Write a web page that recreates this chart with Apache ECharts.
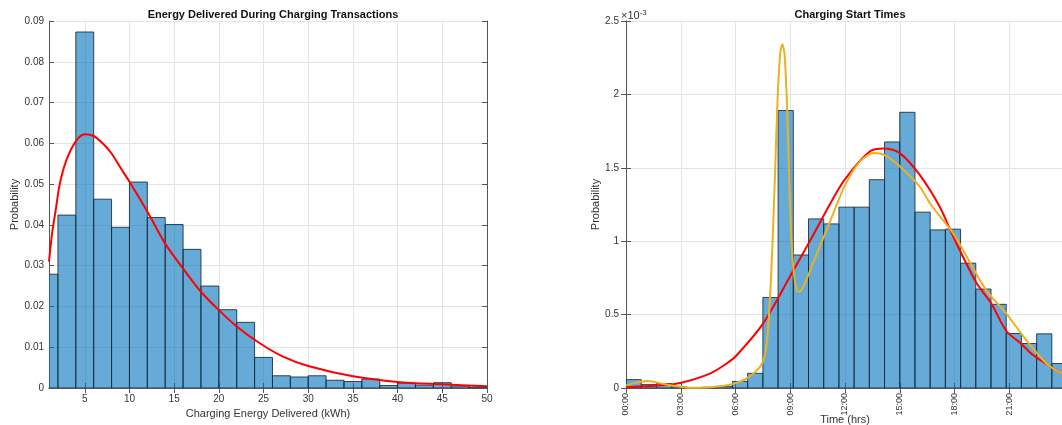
<!DOCTYPE html>
<html>
<head>
<meta charset="utf-8">
<script src="https://cdn.jsdelivr.net/npm/echarts@6/dist/echarts.min.js"></script>
<style>
  html, body { margin: 0; padding: 0; background: #fff; }
  #chart { width: 1062px; height: 425px; }
</style>
</head>
<body>
<div id="chart"></div>
<script>
// 左图：充电电量直方图 (bin 宽 2 kWh)
var energyBinWidth = 2;
var energyBinStart = [0, 2, 4, 6, 8, 10, 12, 14, 16, 18, 20, 22, 24, 26, 28, 30, 32, 34, 36, 38, 40, 42, 44, 46, 48];
var energyProb = [0.0279, 0.0424, 0.0873, 0.0463, 0.0394, 0.0505, 0.0418, 0.0401, 0.0340, 0.0250, 0.0192, 0.0161, 0.0075,
                  0.0030, 0.0027, 0.0030, 0.0019, 0.0016, 0.0022, 0.0006, 0.0012, 0.0007, 0.0013, 0.0005, 0.0002];
// 红色拟合曲线
var energyFitX = [1, 1.35, 1.75, 2.2, 2.95, 4, 5, 6, 7, 8, 9, 10, 12, 14, 16, 18, 20, 22, 24.5, 27, 30, 35, 40, 45, 50];
var energyFitY = [0.031, 0.038, 0.0436, 0.050, 0.0559, 0.0605, 0.0622, 0.0618, 0.0600, 0.0575, 0.0540, 0.0506, 0.0433,
                  0.0354, 0.0293, 0.0236, 0.0191, 0.0151, 0.0111, 0.0079, 0.0054, 0.0029, 0.0015, 0.0009, 0.0004];
var energyTicks = [5, 10, 15, 20, 25, 30, 35, 40, 45, 50];

// 右图：开始充电时间 (分钟, bin 宽 50 分钟, 概率 ×10^-3)
var timeBinWidth = 50;
var timeBinStart = [0, 50, 100, 150, 200, 250, 300, 350, 400, 450, 500, 550, 600, 650, 700, 750, 800, 850, 900, 950,
                    1000, 1050, 1100, 1150, 1200, 1250, 1300, 1350, 1400];
var timeProb = [0.057, 0.023, 0.030, 0.008, 0.003, 0.005, 0.012, 0.045, 0.100, 0.617, 1.890, 0.906, 1.152, 1.118, 1.232,
                1.232, 1.419, 1.676, 1.878, 1.198, 1.077, 1.082, 0.850, 0.674, 0.570, 0.371, 0.303, 0.369, 0.167];
// 红色正态拟合
var timeFitX = [0, 112, 178, 276, 331, 364, 451, 550, 615, 670, 719, 802, 847, 900, 965, 1031, 1075, 1151, 1201, 1250,
                1300, 1338, 1432, 1440];
var timeFitY = [0.005, 0.018, 0.034, 0.098, 0.167, 0.223, 0.44, 0.80, 1.04, 1.25, 1.42, 1.612, 1.632, 1.60, 1.453, 1.236,
                1.035, 0.72, 0.576, 0.39, 0.30, 0.225, 0.098, 0.093];
// 黄色核密度
var timeKdeX = [0, 30, 68, 108, 144, 198, 240, 286, 342, 396, 440, 456, 465, 473, 480, 489, 498, 507, 514, 521, 529, 537,
                544, 552, 561, 566, 573, 583, 615, 670, 720, 768, 816, 852, 900, 965, 1002, 1075, 1108, 1184, 1250, 1316,
                1382, 1432, 1440];
var timeKdeY = [0.018, 0.035, 0.048, 0.035, 0.018, 0.004, 0.002, 0.007, 0.023, 0.064, 0.143, 0.22, 0.35, 0.6, 0.9, 1.4,
                1.95, 2.28, 2.34, 2.28, 1.95, 1.4, 1.0, 0.78, 0.67, 0.656, 0.66, 0.69, 0.85, 1.13, 1.38, 1.54, 1.60, 1.585,
                1.51, 1.373, 1.25, 1.055, 0.94, 0.667, 0.508, 0.326, 0.167, 0.098, 0.093];

var FONT = 'Liberation Sans, Arial, sans-serif';
var AX = '#555';
var TXT = '#333';

function pairs(xs, ys) {
    return xs.map(function (x, i) { return [x, ys[i]]; });
}
function bins(starts, w, ys) {
    return starts.map(function (s, i) { return [s, s + w, ys[i]]; });
}
function histItem(params, api) {
    var p0 = api.coord([api.value(0), api.value(2)]);
    var p1 = api.coord([api.value(1), 0]);
    return {
        type: 'rect',
        shape: { x: p0[0], y: p0[1], width: p1[0] - p0[0], height: p1[1] - p0[1] },
        style: { fill: 'rgba(0,114,189,0.6)', stroke: 'rgba(25,40,55,0.85)', lineWidth: 1 }
    };
}
function hhmm(v) {
    var h = Math.floor(v / 60), m = v % 60;
    return (h < 10 ? '0' : '') + h + ':' + (m < 10 ? '0' : '') + m;
}

var myChart = echarts.init(document.getElementById('chart'));

var baseLine = { show: true, lineStyle: { color: AX, width: 1 } };
var inTick = { show: true, inside: true, length: 5, lineStyle: { color: AX } };
var grid = { show: true, lineStyle: { color: '#e4e4e4', width: 1 } };

var option = {
    animation: false,
    textStyle: { fontFamily: FONT },
    title: [
        { text: 'Energy Delivered During Charging Transactions', left: 268, top: 4, textAlign: 'center',
          textStyle: { fontSize: 11, fontWeight: 'bold', color: '#111', fontFamily: FONT } },
        { text: 'Charging Start Times', left: 845, top: 4, textAlign: 'center',
          textStyle: { fontSize: 11, fontWeight: 'bold', color: '#111', fontFamily: FONT } }
    ],
    graphic: [{
        type: 'text', left: 621, top: 9,
        style: {
            text: '{a|×10}{b|-3}',
            rich: {
                a: { fontSize: 11, fill: TXT, fontFamily: FONT, padding: [5, 0, 0, 0] },
                b: { fontSize: 8, fill: TXT, fontFamily: FONT }
            }
        }
    }],
    grid: [
        { left: 49, top: 21, width: 438, height: 367, containLabel: false, outerBoundsMode: 'none' },
        { left: 626, top: 21, width: 438, height: 367, containLabel: false, outerBoundsMode: 'none' }
    ],
    xAxis: [
        {
            gridIndex: 0, type: 'value', min: 1, max: 50, position: 'bottom',
            name: 'Charging Energy Delivered (kWh)', nameLocation: 'middle', nameGap: 16,
            nameTextStyle: { fontSize: 11, color: TXT },
            axisLine: baseLine,
            axisTick: { show: true, inside: true, length: 5, lineStyle: { color: AX }, customValues: energyTicks },
            axisLabel: { fontSize: 10, color: TXT, margin: 6, customValues: energyTicks },
            splitLine: grid
        },
        {
            gridIndex: 0, type: 'value', min: 1, max: 50, position: 'top',
            axisLine: baseLine,
            axisTick: { show: true, inside: true, length: 5, lineStyle: { color: AX }, customValues: energyTicks },
            axisLabel: { show: false },
            splitLine: { show: false }
        },
        {
            gridIndex: 1, type: 'value', min: 0, max: 1440, interval: 180, position: 'bottom',
            name: 'Time (hrs)', nameLocation: 'middle', nameGap: 26, nameMoveOverlap: false,
            nameTextStyle: { fontSize: 11, color: TXT },
            axisLine: baseLine, axisTick: inTick,
            axisLabel: { fontSize: 9, color: TXT, rotate: 90, margin: 5, showMaxLabel: false, formatter: hhmm },
            splitLine: grid
        },
        {
            gridIndex: 1, type: 'value', min: 0, max: 1440, interval: 180, position: 'top',
            axisLine: baseLine, axisTick: inTick, axisLabel: { show: false }, splitLine: { show: false }
        }
    ],
    yAxis: [
        {
            gridIndex: 0, type: 'value', min: 0, max: 0.09, interval: 0.01, position: 'left',
            name: 'Probability', nameLocation: 'middle', nameGap: 27,
            nameTextStyle: { fontSize: 11, color: TXT },
            axisLine: baseLine, axisTick: inTick,
            axisLabel: { fontSize: 10, color: TXT, margin: 5,
                         formatter: function (v) { return v === 0 ? '0' : String(+v.toFixed(2)); } },
            splitLine: grid
        },
        {
            gridIndex: 0, type: 'value', min: 0, max: 0.09, interval: 0.01, position: 'right',
            axisLine: baseLine, axisTick: inTick, axisLabel: { show: false }, splitLine: { show: false }
        },
        {
            gridIndex: 1, type: 'value', min: 0, max: 2.5, interval: 0.5, position: 'left',
            name: 'Probability', nameLocation: 'middle', nameGap: 19,
            nameTextStyle: { fontSize: 11, color: TXT },
            axisLine: baseLine, axisTick: inTick,
            axisLabel: { fontSize: 10, color: TXT, margin: 7,
                         formatter: function (v) { return String(+v.toFixed(1)); } },
            splitLine: grid
        },
        {
            gridIndex: 1, type: 'value', min: 0, max: 2.5, interval: 0.5, position: 'right',
            axisLine: baseLine, axisTick: inTick, axisLabel: { show: false }, splitLine: { show: false }
        }
    ],
    series: [
        {
            type: 'custom', xAxisIndex: 0, yAxisIndex: 0, clip: true,
            renderItem: histItem, data: bins(energyBinStart, energyBinWidth, energyProb)
        },
        {
            type: 'line', xAxisIndex: 0, yAxisIndex: 0, data: pairs(energyFitX, energyFitY),
            showSymbol: false, smooth: 0.3, lineStyle: { color: '#ff0000', width: 2 }
        },
        {
            type: 'custom', xAxisIndex: 2, yAxisIndex: 2, clip: true,
            renderItem: histItem, data: bins(timeBinStart, timeBinWidth, timeProb)
        },
        {
            type: 'line', xAxisIndex: 2, yAxisIndex: 2, data: pairs(timeFitX, timeFitY),
            showSymbol: false, smooth: 0.3, lineStyle: { color: '#ff0000', width: 2 }
        },
        {
            type: 'line', xAxisIndex: 2, yAxisIndex: 2, data: pairs(timeKdeX, timeKdeY),
            showSymbol: false, smooth: 0.3, lineStyle: { color: '#edb120', width: 2 }
        }
    ]
};

myChart.setOption(option);
</script>
</body>
</html>
